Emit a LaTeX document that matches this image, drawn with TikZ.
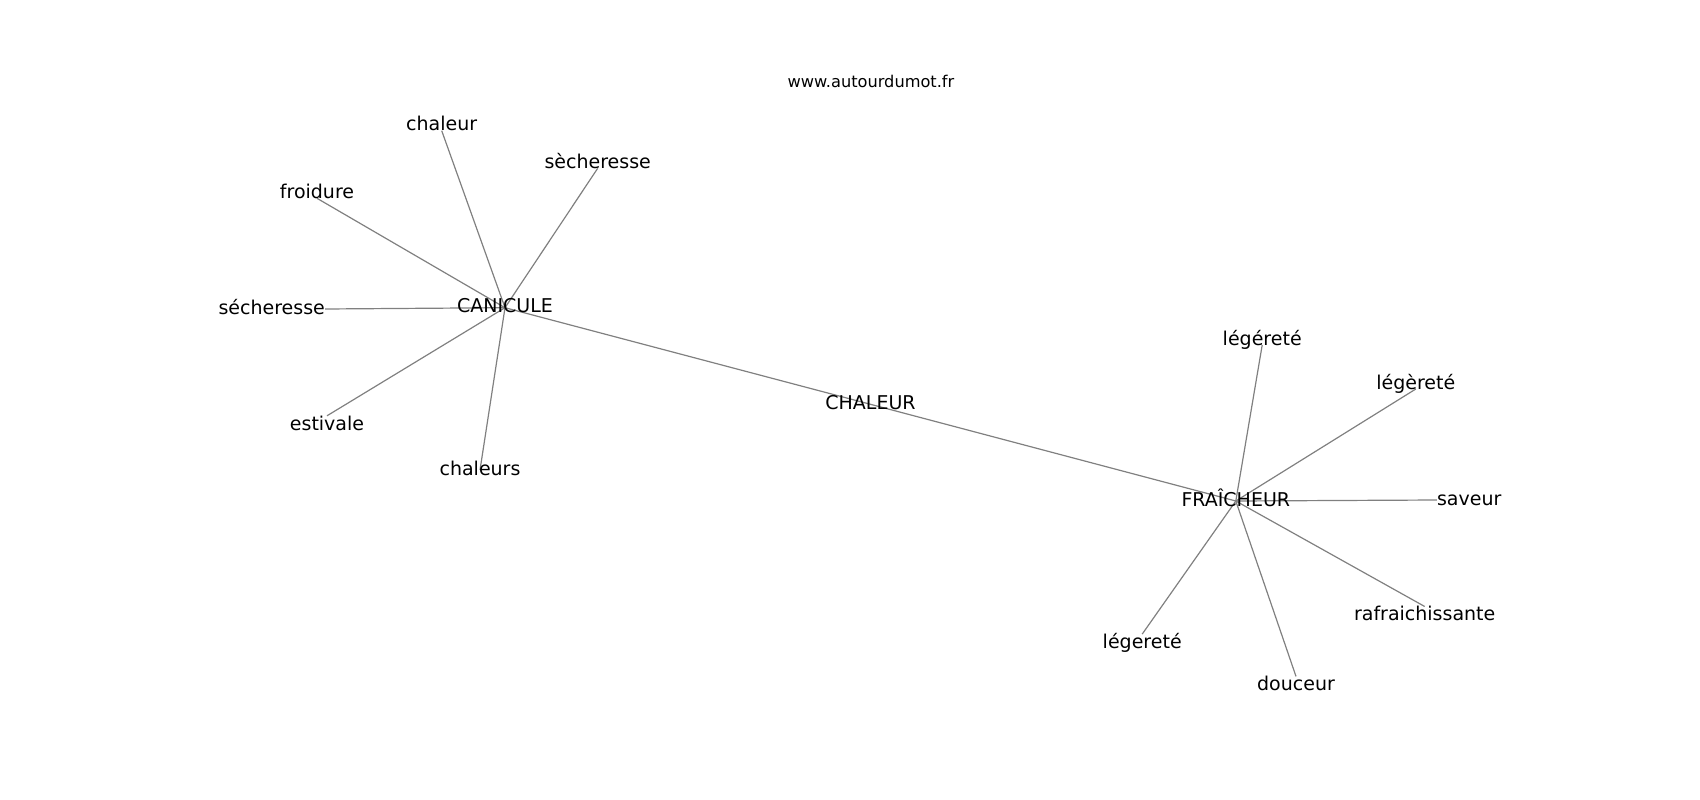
\documentclass[tikz,border=0pt]{standalone}
\usepackage{fontspec}
\setmainfont{DejaVu Sans}
\usetikzlibrary{backgrounds}
\begin{document}
\begin{tikzpicture}[x=1pt,y=-1pt,
  lbl/.style={anchor=base,inner sep=0pt,text height=14pt,text depth=4pt,font=\fontsize{19}{22}\selectfont,text=black},
  hub/.style={lbl},
  leaf/.style={lbl},
  edge/.style={draw=black!50,line width=1.2pt},
  wm/.style={anchor=base,inner sep=0pt,font=\fontsize{16.2}{19}\selectfont,text=black}]
\useasboundingbox (0,0) rectangle (1700,800);
% hubs
\node[hub] (can) at (505,312.7) {CANICULE};
\node[hub] (fra) at (1235.8,506) {FRAÎCHEUR};
\node[hub] (cha) at (870.5,409.3) {CHALEUR};
% leaves of CANICULE
\node[leaf] (l1) at (441.7,130.7) {chaleur};
\node[leaf] (l2) at (597.7,168.3) {sècheresse};
\node[leaf] (l3) at (317,198.3) {froidure};
\node[leaf] (l4) at (271.7,314) {sécheresse};
\node[leaf] (l5) at (327,430) {estivale};
\node[leaf] (l6) at (480,475) {chaleurs};
% leaves of FRAÎCHEUR
\node[leaf] (r1) at (1262.2,345) {légéreté};
\node[leaf] (r2) at (1415.8,389) {légèreté};
\node[leaf] (r3) at (1469.2,505) {saveur};
\node[leaf] (r4) at (1424.7,620.7) {rafraichissante};
\node[leaf] (r5) at (1142.2,648.3) {légereté};
\node[leaf] (r6) at (1296,690.6) {douceur};
% watermark
\node[wm] (wm) at (871,87.7) {www.autourdumot.fr};
% edges
\begin{scope}[on background layer]
\draw[edge] (can.center) -- (cha.center) -- (fra.center);
\draw[edge] (can.center) -- (l1.base);
\draw[edge] (can.center) -- (l2.base);
\draw[edge] (can.center) -- (l3.base);
\draw[edge] (can.center) -- (l4.east);
\draw[edge] (can.center) -- (l5.north);
\draw[edge] (can.center) -- (l6.center);
\draw[edge] (fra.center) -- (r1.base);
\draw[edge] (fra.center) -- (r2.base);
\draw[edge] (fra.center) -- (r3.west);
\draw[edge] (fra.center) -- (r4.north);
\draw[edge] (fra.center) -- (r5.north);
\draw[edge] (fra.center) -- (r6.north);
\end{scope}
\end{tikzpicture}
\end{document}
